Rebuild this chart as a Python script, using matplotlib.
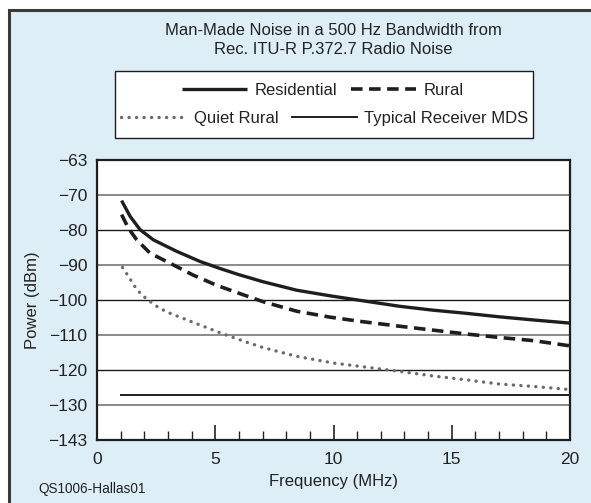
import matplotlib
matplotlib.use("Agg")
import matplotlib.pyplot as plt
from matplotlib.patches import Rectangle

plt.rcParams['font.family'] = ['Liberation Sans', 'DejaVu Sans']

# Frequency (MHz) and noise power (dBm) in a 500 Hz bandwidth
res_f = [1.04, 1.40, 1.82, 2.38, 3.37, 4.36, 5.2, 5.97, 7.03, 8.44, 9.85, 11.12, 12.8, 14.2, 15.6, 17.0, 18.45, 20.0]
res_p = [-71.6, -76.1, -79.9, -82.8, -86.1, -89.0, -91.0, -92.7, -94.8, -97.2, -98.8, -100.1, -101.8, -102.9, -103.8, -104.8, -105.7, -106.6]

rural_f = [1.04, 1.32, 1.68, 2.24, 3.09, 4.07, 5.06, 5.97, 7.03, 8.44, 9.85, 11.12, 12.8, 14.2, 15.6, 17.0, 18.45, 20.0]
rural_p = [-75.6, -79.4, -82.8, -86.6, -89.5, -92.9, -95.8, -98.0, -100.5, -103.2, -104.9, -106.1, -107.5, -108.6, -109.7, -110.7, -111.6, -113.1]

quiet_f = [1.08, 1.40, 1.68, 1.96, 2.45, 2.94, 3.51, 4.3, 5.3, 6.3, 7.03, 8.44, 9.99, 11.4, 12.8, 14.2, 15.6, 17.0, 18.45, 20.0]
quiet_p = [-90.7, -94.0, -97.0, -98.9, -101.5, -103.4, -104.9, -107.0, -109.6, -112.0, -113.6, -116.1, -118.0, -119.2, -120.4, -121.7, -122.8, -124.0, -124.7, -125.6]

mds_f = [1.0, 20.0]
mds_p = [-127.0, -127.0]

x_major = [0, 5, 10, 15, 20]
x_minor = [1, 2, 3, 4, 6, 7, 8, 9, 11, 12, 13, 14, 16, 17, 18, 19]
y_ticks = [-140, -130, -120, -110, -100, -90, -80, -70, -60]
y_labels = ['\u2212143', '\u2212130', '\u2212120', '\u2212110', '\u2212100',
            '\u221290', '\u221280', '\u221270', '\u221263']

W, H = 591, 503
fig = plt.figure(figsize=(W / 100, H / 100), dpi=100, facecolor='white')

# light blue panel with a dark frame on the top and left
panel = Rectangle((9.5 / W, -0.1), 1.2, 1.1 - 9.5 / H, transform=fig.transFigure,
                  facecolor='#ddeef7', edgecolor='#3a3a3a', linewidth=2.2, zorder=-2)
fig.patches.append(panel)

ax = fig.add_axes([97 / W, 1 - 440 / H, (570 - 97) / W, (440 - 160) / H])
ax.set_zorder(1)
ax.set_facecolor('white')
ax.set_xlim(0, 20)
ax.set_ylim(-140, -60)

# alternating grey / black horizontal rules
for y in [-130, -120, -110, -100, -90, -80, -70]:
    if y % 20 == 0:
        ax.axhline(y, color='#1a1a1a', lw=1.0, zorder=1)
    else:
        ax.axhline(y, color='#8a8a8a', lw=1.4, zorder=1)

l_res, = ax.plot(res_f, res_p, color='#1e1e1e', lw=2.4, solid_capstyle='butt',
                 solid_joinstyle='round', zorder=3, label='Residential')
l_rur, = ax.plot(rural_f, rural_p, color='#1e1e1e', lw=2.6, dashes=(3.2, 1.8),
                 dash_joinstyle='round', zorder=3, label='Rural')
l_qui, = ax.plot(quiet_f, quiet_p, color='#6a6a6a', lw=2.4, linestyle=(0, (0.05, 2.2)),
                 dash_capstyle='round', zorder=3, label='Quiet Rural')
l_mds, = ax.plot(mds_f, mds_p, color='#1e1e1e', lw=1.4, zorder=3,
                 label='Typical Receiver MDS')

ax.set_xticks(x_major)
ax.set_xticks(x_minor, minor=True)
ax.set_yticks(y_ticks)
ax.set_yticklabels(y_labels)
ax.tick_params(axis='x', which='major', direction='in', length=11, width=1.2,
               color='#222222', labelsize=12.5, pad=9, labelcolor='#222222')
ax.tick_params(axis='x', which='minor', direction='in', length=6.5, width=1.0,
               color='#222222')
ax.tick_params(axis='y', length=0, labelsize=12.5, pad=7, labelcolor='#222222')
for s in ax.spines.values():
    s.set_color('#1e1e1e')
    s.set_linewidth(1.6)
    s.set_zorder(4)

ax.set_xlabel('Frequency (MHz)', fontsize=12, color='#222222', labelpad=5)
ax.set_ylabel('Power (dBm)', fontsize=12, color='#222222', labelpad=6)

fig.text(333 / W, 1 - 40 / H,
         'Man-Made Noise in a 500 Hz Bandwidth from\nRec. ITU-R P.372.7 Radio Noise',
         ha='center', va='center', fontsize=12, color='#222222', linespacing=1.3)

# legend box with two independently centred rows
box = Rectangle((115 / W, 1 - 138 / H), (533 - 115) / W, (138 - 71) / H,
                transform=fig.transFigure, facecolor='white', edgecolor='#1e1e1e',
                linewidth=1.0, zorder=-1)
fig.patches.append(box)

leg_kw = dict(frameon=False, ncol=2, fontsize=12, handlelength=3.9, handletextpad=0.45,
              columnspacing=0.8, borderpad=0, borderaxespad=0, loc='center')
leg1 = fig.legend(handles=[l_res, l_rur], bbox_to_anchor=(323 / W, 1 - 90 / H), **leg_kw)
leg2 = fig.legend(handles=[l_qui, l_mds], bbox_to_anchor=(325 / W, 1 - 118 / H), **leg_kw)
for lg in (leg1, leg2):
    for t in lg.get_texts():
        t.set_color('#222222')

fig.text(38 / W, 1 - 489 / H, 'QS1006-Hallas01', ha='left', va='center',
         fontsize=9.8, color='#222222')

fig.savefig('out.png', dpi=100, facecolor=fig.get_facecolor())
